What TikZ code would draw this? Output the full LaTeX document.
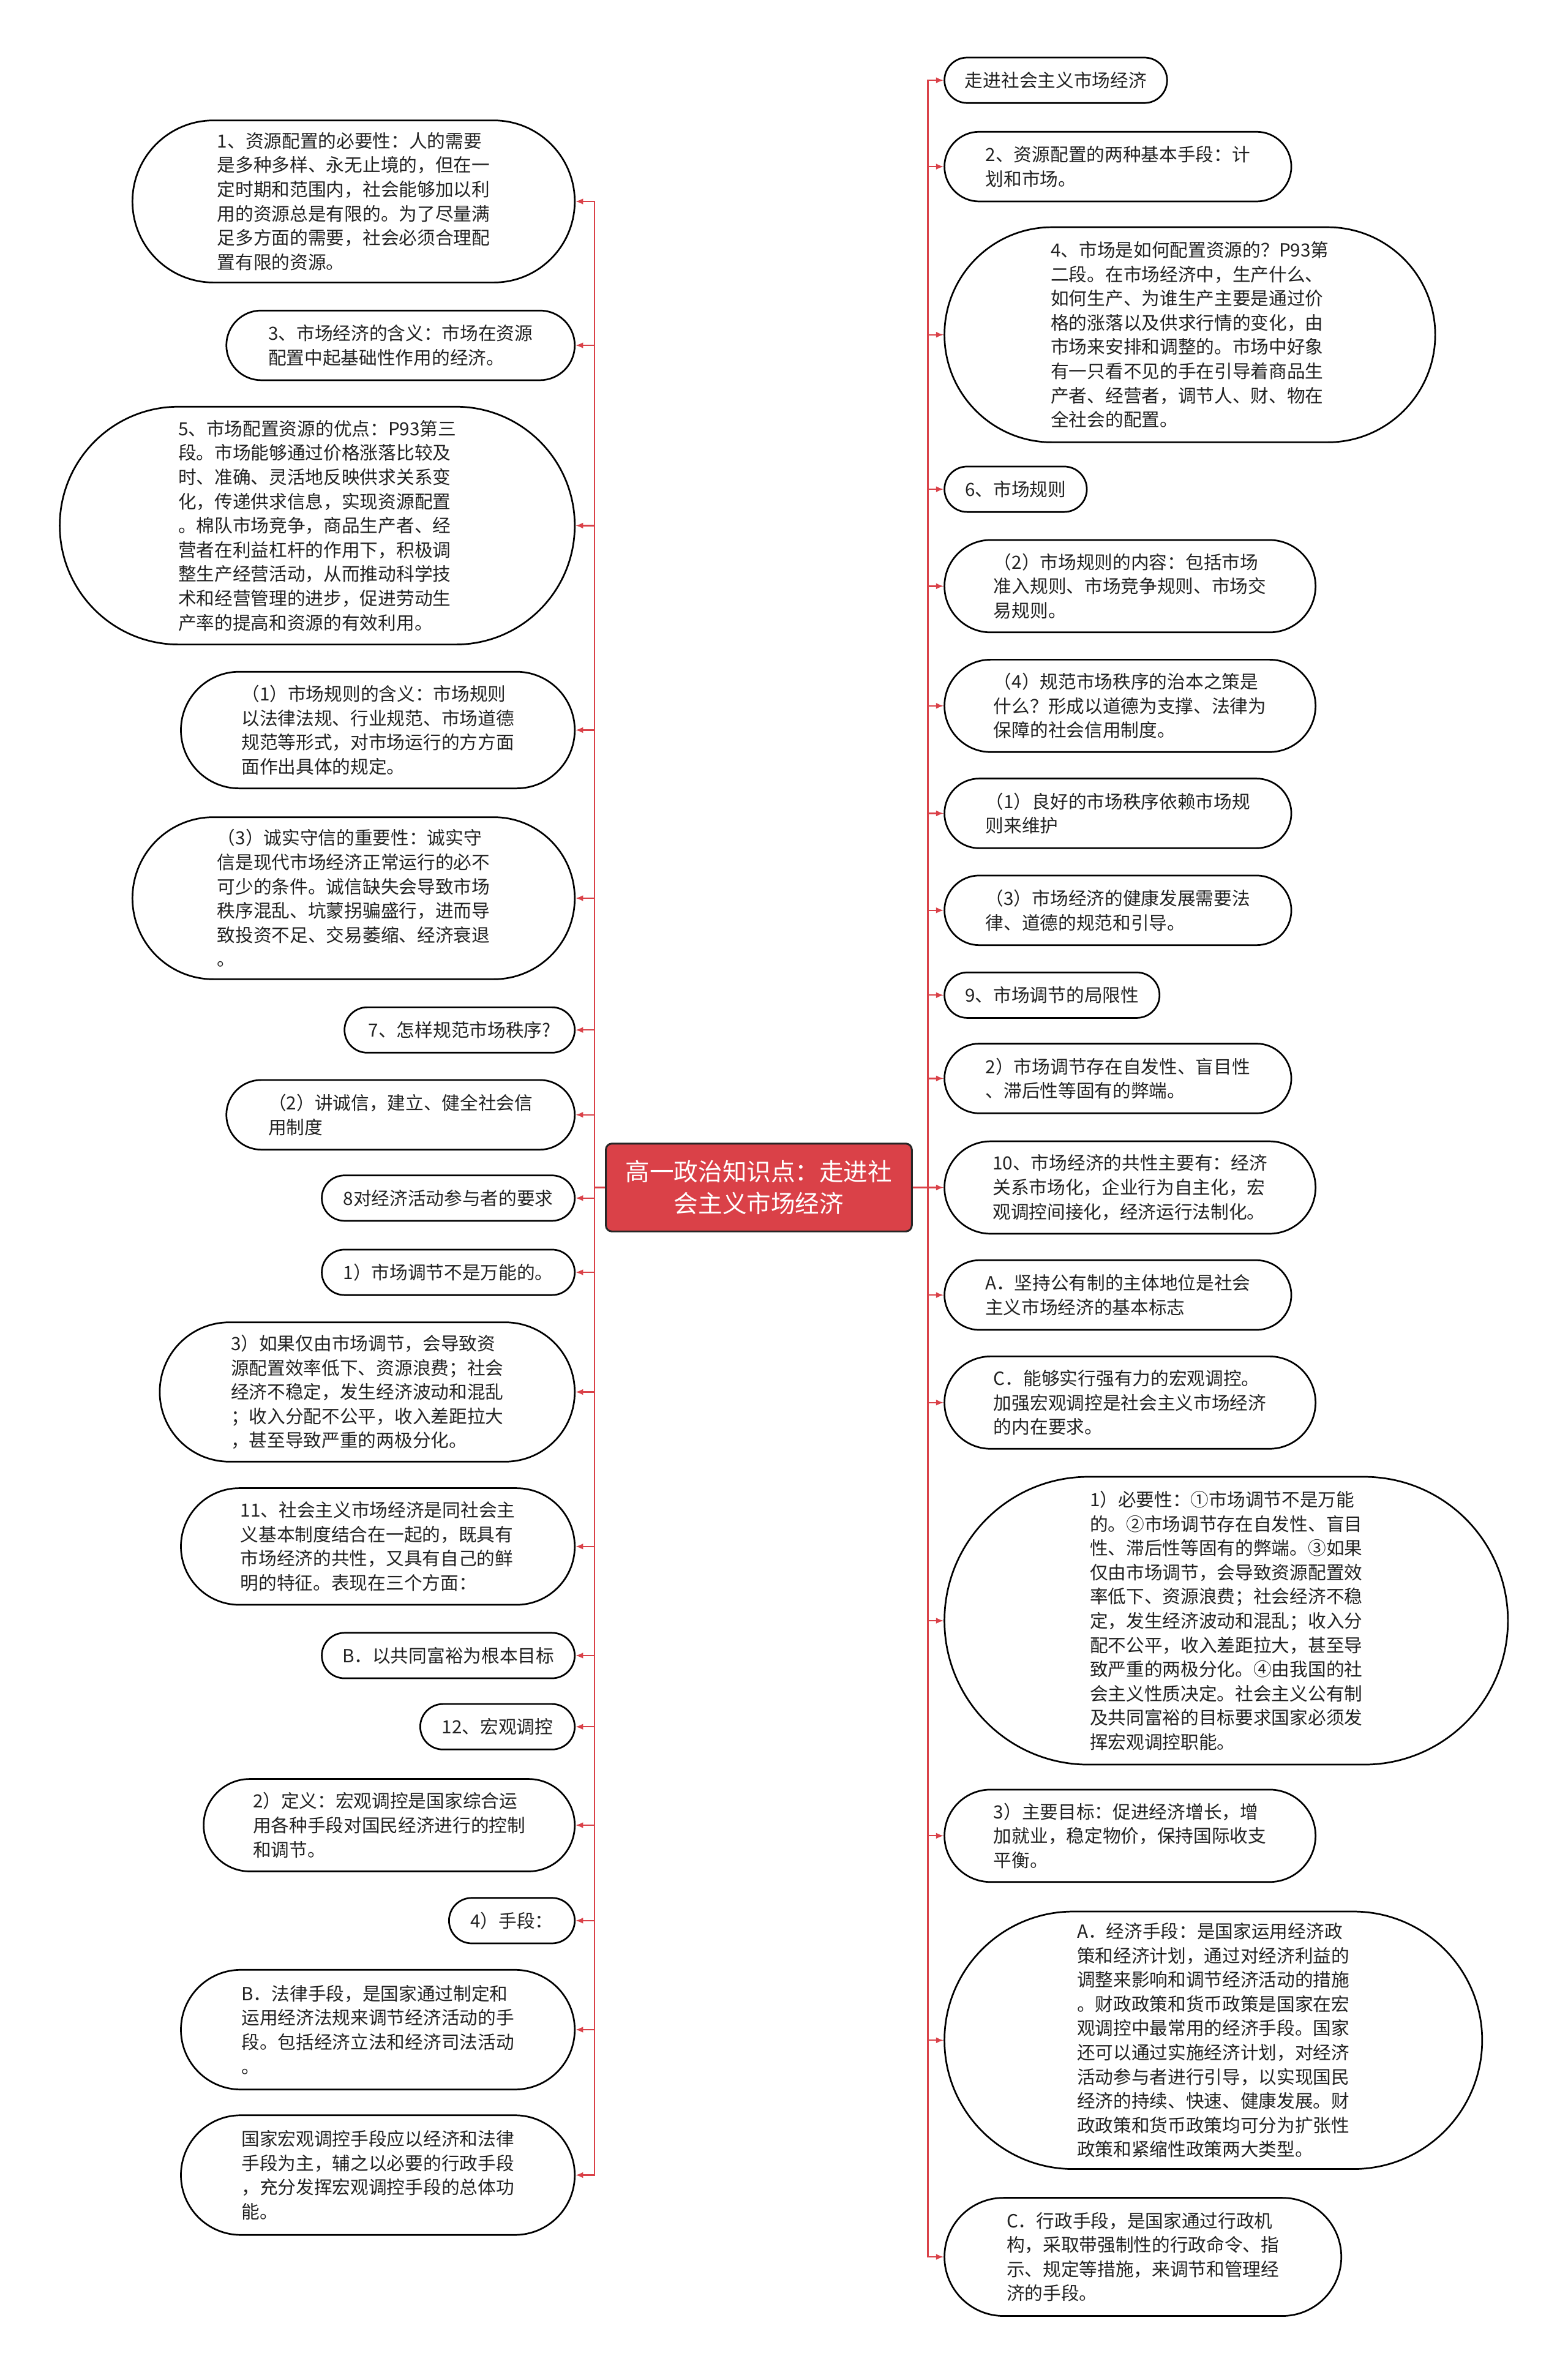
\documentclass[tikz,border=0pt]{standalone}
\usepackage{fontspec}
\newfontfamily\cjkfont{Noto Sans CJK SC}
\usetikzlibrary{arrows.meta}
\definecolor{mapred}{RGB}{218,65,72}
\definecolor{ink}{RGB}{34,34,34}

\begin{document}
\begin{tikzpicture}[x=1pt,y=-1pt,
  leaf/.style 2 args={draw=black, line width=1.1pt, fill=white, text=ink,
    font=\cjkfont\fontsize{12}{16}\selectfont, align=left, inner sep=0pt,
    minimum width=#1pt, minimum height=#2pt, rounded corners=0.5*#2pt},
  root/.style={draw=black!85, line width=1.2pt, fill=mapred, text=white,
    font=\cjkfont\fontsize{16}{21}\selectfont, align=center, inner sep=0pt,
    minimum width=202pt, minimum height=58pt, rounded corners=4pt},
  branch/.style={draw=mapred, line width=0.9pt, >={Latex[length=5pt,width=4pt]}}]
\path[use as bounding box, fill=white] (0,0) rectangle (1035,1568);

\node[root] (root) at (501,784) {高一政治知识点：走进社\\会主义市场经济};

\node[leaf={292}{107}, anchor=east] (l1) at (380,133) {1、资源配置的必要性：人的需要\\是多种多样、永无止境的，但在一\\定时期和范围内，社会能够加以利\\用的资源总是有限的。为了尽量满\\足多方面的需要，社会必须合理配\\置有限的资源。};
\node[leaf={230}{46}, anchor=east] (l2) at (380,228) {3、市场经济的含义：市场在资源\\配置中起基础性作用的经济。};
\node[leaf={340}{157}, anchor=east] (l3) at (380,347) {5、市场配置资源的优点：P93第三\\段。市场能够通过价格涨落比较及\\时、准确、灵活地反映供求关系变\\化，传递供求信息，实现资源配置\\。棉队市场竞争，商品生产者、经\\营者在利益杠杆的作用下，积极调\\整生产经营活动，从而推动科学技\\术和经营管理的进步，促进劳动生\\产率的提高和资源的有效利用。};
\node[leaf={260}{77}, anchor=east] (l4) at (380,482) {（1）市场规则的含义：市场规则\\以法律法规、行业规范、市场道德\\规范等形式，对市场运行的方方面\\面作出具体的规定。};
\node[leaf={292}{107}, anchor=east] (l5) at (380,593) {（3）诚实守信的重要性：诚实守\\信是现代市场经济正常运行的必不\\可少的条件。诚信缺失会导致市场\\秩序混乱、坑蒙拐骗盛行，进而导\\致投资不足、交易萎缩、经济衰退\\。};
\node[leaf={152}{30}, anchor=east] (l6) at (380,680) {7、怎样规范市场秩序?};
\node[leaf={230}{46}, anchor=east] (l7) at (380,736) {（2）讲诚信，建立、健全社会信\\用制度};
\node[leaf={167}{30}, anchor=east] (l8) at (380,791) {8对经济活动参与者的要求};
\node[leaf={167}{30}, anchor=east] (l9) at (380,840) {1）市场调节不是万能的。};
\node[leaf={274}{92}, anchor=east] (l10) at (380,919) {3）如果仅由市场调节，会导致资\\源配置效率低下、资源浪费；社会\\经济不稳定，发生经济波动和混乱\\；收入分配不公平，收入差距拉大\\，甚至导致严重的两极分化。};
\node[leaf={260}{77}, anchor=east] (l11) at (380,1021) {11、社会主义市场经济是同社会主\\义基本制度结合在一起的，既具有\\市场经济的共性，又具有自己的鲜\\明的特征。表现在三个方面：};
\node[leaf={167}{30}, anchor=east] (l12) at (380,1093) {B．以共同富裕为根本目标};
\node[leaf={102}{30}, anchor=east] (l13) at (380,1140) {12、宏观调控};
\node[leaf={245}{61}, anchor=east] (l14) at (380,1205) {2）定义：宏观调控是国家综合运\\用各种手段对国民经济进行的控制\\和调节。};
\node[leaf={83}{30}, anchor=east] (l15) at (380,1268) {4）手段：};
\node[leaf={260}{79}, anchor=east] (l16) at (380,1340) {B．法律手段，是国家通过制定和\\运用经济法规来调节经济活动的手\\段。包括经济立法和经济司法活动\\。};
\node[leaf={260}{79}, anchor=east] (l17) at (380,1436) {国家宏观调控手段应以经济和法律\\手段为主，辅之以必要的行政手段\\，充分发挥宏观调控手段的总体功\\能。};

\node[leaf={147}{30}, anchor=west] (r1) at (623,53) {走进社会主义市场经济};
\node[leaf={229}{46}, anchor=west] (r2) at (623,110) {2、资源配置的两种基本手段：计\\划和市场。};
\node[leaf={324}{142}, anchor=west] (r3) at (623,221) {4、市场是如何配置资源的？P93第\\二段。在市场经济中，生产什么、\\如何生产、为谁生产主要是通过价\\格的涨落以及供求行情的变化，由\\市场来安排和调整的。市场中好象\\有一只看不见的手在引导着商品生\\产者、经营者，调节人、财、物在\\全社会的配置。};
\node[leaf={94}{30}, anchor=west] (r4) at (623,323) {6、市场规则};
\node[leaf={245}{61}, anchor=west] (r5) at (623,387) {（2）市场规则的内容：包括市场\\准入规则、市场竞争规则、市场交\\易规则。};
\node[leaf={245}{61}, anchor=west] (r6) at (623,466) {（4）规范市场秩序的治本之策是\\什么？形成以道德为支撑、法律为\\保障的社会信用制度。};
\node[leaf={229}{46}, anchor=west] (r7) at (623,537) {（1）良好的市场秩序依赖市场规\\则来维护};
\node[leaf={229}{46}, anchor=west] (r8) at (623,601) {（3）市场经济的健康发展需要法\\律、道德的规范和引导。};
\node[leaf={142}{30}, anchor=west] (r9) at (623,657) {9、市场调节的局限性};
\node[leaf={229}{46}, anchor=west] (r10) at (623,712) {2）市场调节存在自发性、盲目性\\、滞后性等固有的弊端。};
\node[leaf={245}{61}, anchor=west] (r11) at (623,784) {10、市场经济的共性主要有：经济\\关系市场化，企业行为自主化，宏\\观调控间接化，经济运行法制化。};
\node[leaf={229}{46}, anchor=west] (r12) at (623,855) {A．坚持公有制的主体地位是社会\\主义市场经济的基本标志};
\node[leaf={245}{61}, anchor=west] (r13) at (623,926) {C．能够实行强有力的宏观调控。\\加强宏观调控是社会主义市场经济\\的内在要求。};
\node[leaf={372}{190}, anchor=west] (r14) at (623,1070) {1）必要性：①市场调节不是万能\\的。②市场调节存在自发性、盲目\\性、滞后性等固有的弊端。③如果\\仅由市场调节，会导致资源配置效\\率低下、资源浪费；社会经济不稳\\定，发生经济波动和混乱；收入分\\配不公平，收入差距拉大，甚至导\\致严重的两极分化。④由我国的社\\会主义性质决定。社会主义公有制\\及共同富裕的目标要求国家必须发\\挥宏观调控职能。};
\node[leaf={245}{61}, anchor=west] (r15) at (623,1212) {3）主要目标：促进经济增长，增\\加就业，稳定物价，保持国际收支\\平衡。};
\node[leaf={355}{170}, anchor=west] (r16) at (623,1347) {A．经济手段：是国家运用经济政\\策和经济计划，通过对经济利益的\\调整来影响和调节经济活动的措施\\。财政政策和货币政策是国家在宏\\观调控中最常用的经济手段。国家\\还可以通过实施经济计划，对经济\\活动参与者进行引导，以实现国民\\经济的持续、快速、健康发展。财\\政政策和货币政策均可分为扩张性\\政策和紧缩性政策两大类型。};
\node[leaf={262}{78}, anchor=west] (r17) at (623,1490) {C．行政手段，是国家通过行政机\\构，采取带强制性的行政命令、指\\示、规定等措施，来调节和管理经\\济的手段。};

\draw[branch,->] (root.west) -- ++(-7,0) |- (l1.east);
\draw[branch,->] (root.west) -- ++(-7,0) |- (l2.east);
\draw[branch,->] (root.west) -- ++(-7,0) |- (l3.east);
\draw[branch,->] (root.west) -- ++(-7,0) |- (l4.east);
\draw[branch,->] (root.west) -- ++(-7,0) |- (l5.east);
\draw[branch,->] (root.west) -- ++(-7,0) |- (l6.east);
\draw[branch,->] (root.west) -- ++(-7,0) |- (l7.east);
\draw[branch,->] (root.west) -- ++(-7,0) |- (l8.east);
\draw[branch,->] (root.west) -- ++(-7,0) |- (l9.east);
\draw[branch,->] (root.west) -- ++(-7,0) |- (l10.east);
\draw[branch,->] (root.west) -- ++(-7,0) |- (l11.east);
\draw[branch,->] (root.west) -- ++(-7,0) |- (l12.east);
\draw[branch,->] (root.west) -- ++(-7,0) |- (l13.east);
\draw[branch,->] (root.west) -- ++(-7,0) |- (l14.east);
\draw[branch,->] (root.west) -- ++(-7,0) |- (l15.east);
\draw[branch,->] (root.west) -- ++(-7,0) |- (l16.east);
\draw[branch,->] (root.west) -- ++(-7,0) |- (l17.east);

\draw[branch,->] (root.east) -- ++(10,0) |- (r1.west);
\draw[branch,->] (root.east) -- ++(10,0) |- (r2.west);
\draw[branch,->] (root.east) -- ++(10,0) |- (r3.west);
\draw[branch,->] (root.east) -- ++(10,0) |- (r4.west);
\draw[branch,->] (root.east) -- ++(10,0) |- (r5.west);
\draw[branch,->] (root.east) -- ++(10,0) |- (r6.west);
\draw[branch,->] (root.east) -- ++(10,0) |- (r7.west);
\draw[branch,->] (root.east) -- ++(10,0) |- (r8.west);
\draw[branch,->] (root.east) -- ++(10,0) |- (r9.west);
\draw[branch,->] (root.east) -- ++(10,0) |- (r10.west);
\draw[branch,->] (root.east) -- ++(10,0) |- (r11.west);
\draw[branch,->] (root.east) -- ++(10,0) |- (r12.west);
\draw[branch,->] (root.east) -- ++(10,0) |- (r13.west);
\draw[branch,->] (root.east) -- ++(10,0) |- (r14.west);
\draw[branch,->] (root.east) -- ++(10,0) |- (r15.west);
\draw[branch,->] (root.east) -- ++(10,0) |- (r16.west);
\draw[branch,->] (root.east) -- ++(10,0) |- (r17.west);
\end{tikzpicture}
\end{document}
